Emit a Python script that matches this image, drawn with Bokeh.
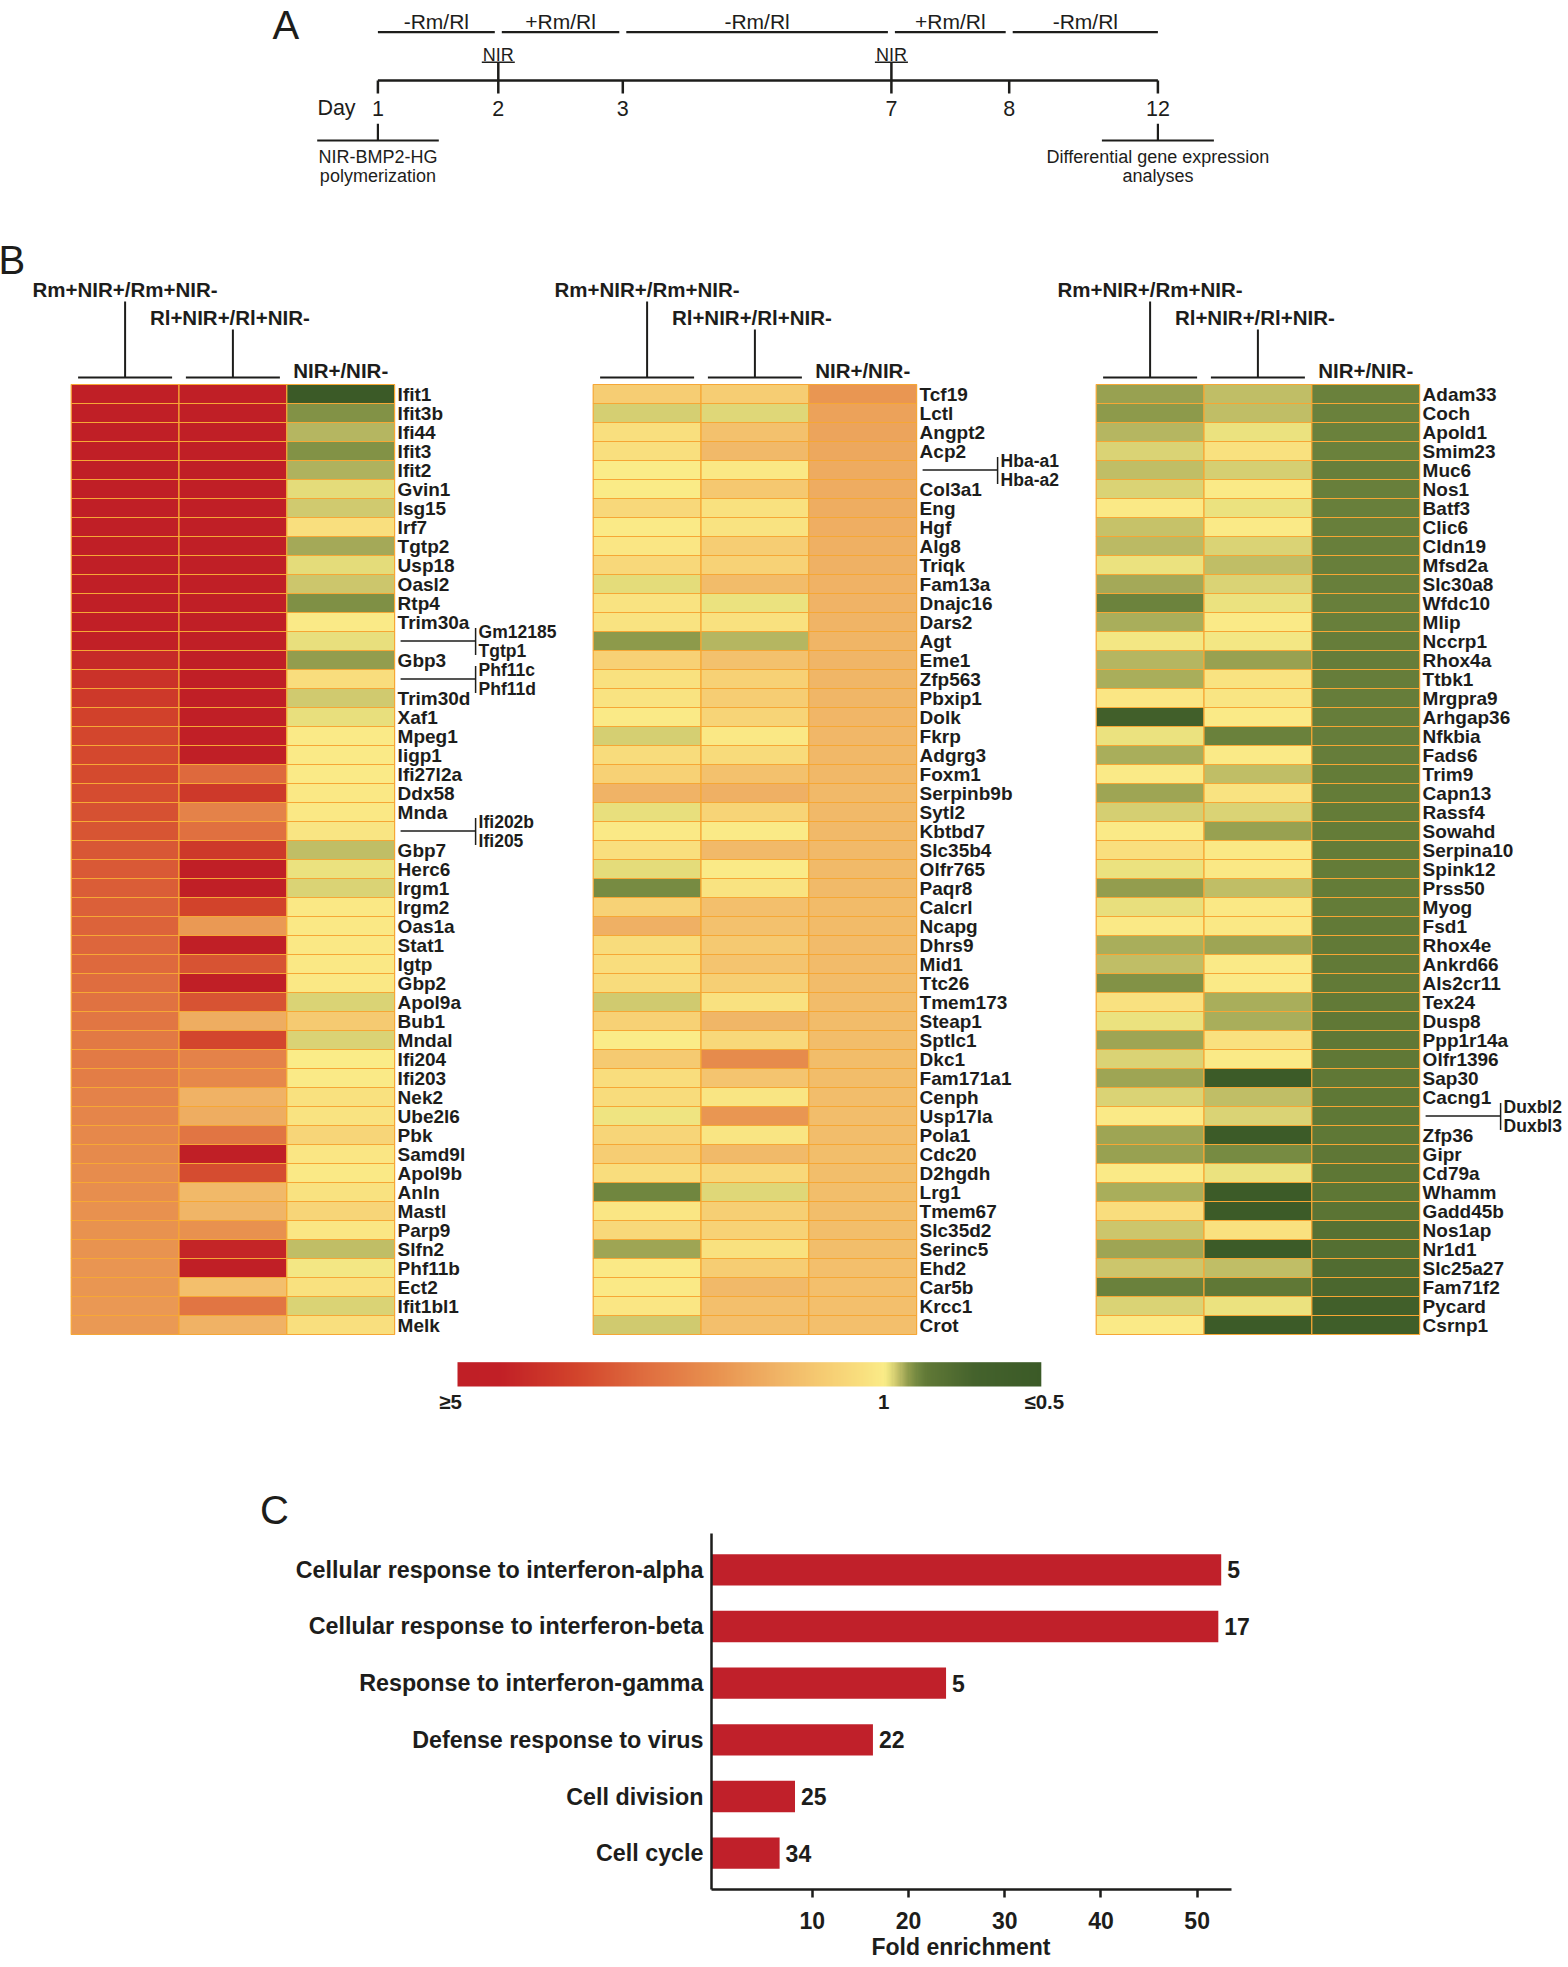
import numpy as np
from bokeh.plotting import figure
from bokeh.models import Range1d, FactorRange, LinearColorMapper, ColumnDataSource, FixedTicker, LabelSet, Title
from bokeh.transform import linear_cmap
from bokeh.embed import file_html
from bokeh.resources import INLINE
from bokeh.core.properties import value

# ------------------------------------------------------------------ data
DAYS = [1, 2, 3, 7, 8, 12]
NIR_DAYS = [2, 7]
TREAT_LABELS = ["-Rm/Rl", "+Rm/Rl", "-Rm/Rl", "+Rm/Rl", "-Rm/Rl"]
TREAT_START = [1, 2, 3, 7, 8]
TREAT_END = [2, 3, 7, 8, 12]
START_NOTE = ["NIR-BMP2-HG", "polymerization"]
END_NOTE = ["Differential gene expression", "analyses"]

COL_HEADERS = ["Rm+NIR+/Rm+NIR-", "Rl+NIR+/Rl+NIR-", "NIR+/NIR-"]

HM1_GENES = ["Ifit1", "Ifit3b", "Ifi44", "Ifit3", "Ifit2", "Gvin1", "Isg15", "Irf7", "Tgtp2", "Usp18",
             "Oasl2", "Rtp4", "Trim30a", "Gm12185/Tgtp1", "Gbp3", "Phf11c/Phf11d", "Trim30d", "Xaf1", "Mpeg1", "Iigp1",
             "Ifi27l2a", "Ddx58", "Mnda", "Ifi202b/Ifi205", "Gbp7", "Herc6", "Irgm1", "Irgm2", "Oas1a", "Stat1",
             "Igtp", "Gbp2", "Apol9a", "Bub1", "Mndal", "Ifi204", "Ifi203", "Nek2", "Ube2l6", "Pbk",
             "Samd9l", "Apol9b", "Anln", "Mastl", "Parp9", "Slfn2", "Phf11b", "Ect2", "Ifit1bl1", "Melk"]
HM1_RM = [5, 5, 5, 5, 5, 5, 5, 5, 5, 5,
          5, 5, 4.8, 4.6, 4.4, 4.25, 4.1, 3.95, 3.85, 3.82,
          3.8, 3.75, 3.68, 3.63, 3.58, 3.55, 3.5, 3.45, 3.4, 3.36,
          3.3, 3.25, 3.15, 3.08, 3.03, 3.0, 2.95, 2.85, 2.8, 2.75,
          2.72, 2.68, 2.64, 2.6, 2.58, 2.55, 2.52, 2.5, 2.47, 2.45]
HM1_RL = [5, 5, 5, 5, 5, 5, 5, 5, 5, 5,
          5, 5, 5, 5, 5, 5, 5, 5, 4.7, 5,
          3.3, 4.1, 2.85, 3.2, 4.1, 5, 5, 3.9, 2.45, 5,
          3.65, 5, 3.65, 2.1, 3.85, 2.85, 2.75, 2.02, 2.1, 3.1,
          5, 3.75, 1.9, 1.97, 2.6, 4.5, 5, 1.8, 3.1, 2.02]
HM1_NIR = [0.5, 0.82, 0.89, 0.82, 0.885, 0.955, 0.93, 1.22, 0.87, 0.96,
           0.918, 0.815, 1.03, 0.965, 0.85, 1.25, 0.93, 0.965, 1.04, 1.04,
           1.04, 1.08, 1.08, 1.12, 0.905, 0.97, 0.945, 1.08, 1.08, 1.08,
           1.08, 1.08, 0.945, 1.6, 0.945, 1.0, 1.03, 1.2, 1.15, 1.4,
           1.1, 1.05, 1.17, 1.4, 1.1, 0.91, 0.99, 1.2, 0.945, 1.22]

HM2_GENES = ["Tcf19", "Lctl", "Angpt2", "Acp2", "Hba-a1/Hba-a2", "Col3a1", "Eng", "Hgf", "Alg8", "Triqk",
             "Fam13a", "Dnajc16", "Dars2", "Agt", "Eme1", "Zfp563", "Pbxip1", "Dolk", "Fkrp", "Adgrg3",
             "Foxm1", "Serpinb9b", "Sytl2", "Kbtbd7", "Slc35b4", "Olfr765", "Paqr8", "Calcrl", "Ncapg", "Dhrs9",
             "Mid1", "Ttc26", "Tmem173", "Steap1", "Sptlc1", "Dkc1", "Fam171a1", "Cenph", "Usp17la", "Pola1",
             "Cdc20", "D2hgdh", "Lrg1", "Tmem67", "Slc35d2", "Serinc5", "Ehd2", "Car5b", "Krcc1", "Crot"]
HM2_RM = [1.55, 0.935, 1.22, 1.22, 1.0, 1.02, 1.35, 1.04, 1.1, 1.35,
          0.96, 1.15, 1.15, 0.84, 1.48, 1.2, 1.15, 1.04, 0.935, 1.28,
          1.48, 2.0, 0.965, 1.05, 1.22, 0.955, 0.8, 1.45, 2.05, 1.28,
          1.26, 1.28, 0.93, 1.48, 1.0, 1.6, 1.26, 1.28, 0.98, 1.4,
          1.55, 1.26, 0.78, 1.1, 1.35, 0.865, 1.06, 1.06, 1.1, 0.93]
HM2_RL = [1.55, 0.95, 1.75, 1.9, 1.08, 1.65, 1.2, 1.15, 1.55, 1.45,
          1.85, 0.975, 1.2, 0.895, 1.75, 1.48, 1.55, 1.42, 1.08, 1.3,
          1.75, 2.05, 1.42, 1.04, 1.9, 1.04, 1.15, 1.8, 1.75, 1.62,
          1.7, 1.52, 1.18, 1.95, 1.35, 2.7, 1.7, 1.12, 2.5, 1.12,
          1.88, 1.35, 0.95, 1.52, 1.45, 1.2, 1.55, 1.9, 1.8, 1.8]
HM2_NIR = [2.5, 2.3, 2.25, 2.2, 2.15, 2.12, 2.1, 2.08, 2.06, 2.04,
           2.02, 2.0, 1.99, 1.98, 1.97, 1.96, 1.95, 1.94, 1.93, 1.92,
           1.91, 1.9, 1.9, 1.89, 1.89, 1.88, 1.88, 1.87, 1.87, 1.86,
           1.86, 1.85, 1.85, 1.85, 1.84, 1.84, 1.84, 1.83, 1.83, 1.83,
           1.82, 1.82, 1.82, 1.81, 1.81, 1.81, 1.8, 1.8, 1.8, 1.8]

HM3_GENES = ["Adam33", "Coch", "Apold1", "Smim23", "Muc6", "Nos1", "Batf3", "Clic6", "Cldn19", "Mfsd2a",
             "Slc30a8", "Wfdc10", "Mlip", "Nccrp1", "Rhox4a", "Ttbk1", "Mrgpra9", "Arhgap36", "Nfkbia", "Fads6",
             "Trim9", "Capn13", "Rassf4", "Sowahd", "Serpina10", "Spink12", "Prss50", "Myog", "Fsd1", "Rhox4e",
             "Ankrd66", "Als2cr11", "Tex24", "Dusp8", "Ppp1r14a", "Olfr1396", "Sap30", "Cacng1", "Duxbl2/Duxbl3", "Zfp36",
             "Gipr", "Cd79a", "Whamm", "Gadd45b", "Nos1ap", "Nr1d1", "Slc25a27", "Fam71f2", "Pycard", "Csrnp1"]
HM3_RM = [0.855, 0.84, 0.895, 0.945, 0.905, 0.945, 1.05, 0.915, 0.9, 0.975,
          0.87, 0.77, 0.875, 0.985, 0.895, 0.875, 1.1, 0.58, 0.975, 0.875,
          1.04, 0.865, 0.935, 1.04, 1.22, 0.975, 0.845, 0.965, 1.05, 0.875,
          0.905, 0.82, 1.18, 0.975, 0.865, 0.945, 0.865, 0.94, 1.04, 0.865,
          0.855, 1.04, 0.875, 1.25, 0.92, 0.865, 0.925, 0.76, 0.945, 1.04]
HM3_RL = [0.905, 0.905, 0.975, 1.2, 0.935, 1.04, 0.97, 1.04, 0.945, 0.91,
          0.94, 0.97, 1.04, 0.99, 0.855, 1.15, 1.12, 1.04, 0.76, 1.04,
          0.905, 1.15, 0.945, 0.855, 1.05, 1.08, 0.905, 1.08, 1.08, 0.865,
          1.04, 1.04, 0.875, 0.875, 1.2, 1.04, 0.52, 0.905, 0.945, 0.52,
          0.8, 0.975, 0.52, 0.52, 1.2, 0.52, 0.905, 0.72, 0.975, 0.52]
HM3_NIR = [0.76, 0.76, 0.76, 0.76, 0.755, 0.755, 0.755, 0.755, 0.75, 0.75,
           0.75, 0.75, 0.75, 0.748, 0.748, 0.745, 0.745, 0.745, 0.742, 0.742,
           0.74, 0.74, 0.74, 0.738, 0.738, 0.735, 0.735, 0.735, 0.732, 0.732,
           0.73, 0.73, 0.728, 0.726, 0.724, 0.722, 0.72, 0.718, 0.716, 0.714,
           0.71, 0.705, 0.7, 0.69, 0.68, 0.67, 0.66, 0.64, 0.58, 0.56]

CBAR_LABELS = ["\u22655", "1", "\u22640.5"]
CBAR_VALUES = [5, 1, 0.5]

GO_TERMS = ["Cellular response to interferon-alpha", "Cellular response to interferon-beta",
            "Response to interferon-gamma", "Defense response to virus", "Cell division", "Cell cycle"]
FOLD_ENRICHMENT = [52.5, 52.2, 23.9, 16.3, 8.2, 6.6]
GENE_COUNTS = [5, 17, 5, 22, 25, 34]
X_TICKS = [10, 20, 30, 40, 50]

# ------------------------------------------------------------------ style / layout
FONT = "Liberation Sans"
INK = "#1d1d1b"
GRIDC = "#f6a735"
BARC = "#c0202a"

PAGE_W = 1568
TOP_H = 1533
COLW = 107.8
ROWH = 19.0
HM_LEFT_PX = [70.7, 592.7, 1095.7]
HM_TOP_PX = 384.0
DAY_X_PX = [377.4, 497.8, 622.3, 890.9, 1008.7, 1157.4]
CBAR_PX = (457.0, 1361.7, 583.8, 24.3)


def ux(px):
    return (px - HM_LEFT_PX[0]) / COLW


def uy(py):
    return (py - HM_TOP_PX) / ROWH


def dx(px):
    return px / COLW


def dy(py):
    return py / ROWH


def fold_to_pos(v):
    """position (0..1) along the colour bar for a fold change"""
    if v >= 1:
        return 0.73 * (5 - min(v, 5)) / 4
    if v >= 0.7:
        return 0.73 + 0.08 * (1 - v) / 0.3
    return 0.81 + 0.19 * (0.7 - max(v, 0.5)) / 0.2


WARM = [(0.0, "#c01f26"), (0.07, "#c11f26"), (0.20, "#d2432b"), (0.32, "#df6d3f"), (0.44, "#e8914f"),
        (0.55, "#f0b466"), (0.63, "#f6cd73"), (0.69, "#f9df7e"), (0.73, "#faec88")]
COOL = [(0.96, "#e6de7c"), (0.92, "#ccc66c"), (0.88, "#adb05d"), (0.84, "#8e9a4b"), (0.78, "#70863f"),
        (0.72, "#607836"), (0.62, "#44622c"), (0.5, "#3b5a27")]


def hex2rgb(h):
    return tuple(int(h[i:i + 2], 16) for i in (1, 3, 5))


def build_palette(n):
    stops = sorted(WARM + [(fold_to_pos(v), c) for v, c in COOL])
    out = []
    for i in range(n):
        t = i / (n - 1)
        for j in range(len(stops) - 1):
            p0, c0 = stops[j]
            p1, c1 = stops[j + 1]
            if p0 <= t <= p1:
                f = (t - p0) / (p1 - p0) if p1 > p0 else 0.0
                rgb = [round(a + (b - a) * f) for a, b in zip(hex2rgb(c0), hex2rgb(c1))]
                out.append("#%02x%02x%02x" % tuple(rgb))
                break
    return out


NPAL = 512
PALETTE = build_palette(NPAL)
mapper = LinearColorMapper(palette=PALETTE, low=0, high=1)

# ------------------------------------------------------------------ top figure (A, B, colour bar)
top = figure(width=PAGE_W, height=TOP_H, x_range=Range1d(ux(0), ux(PAGE_W)), y_range=Range1d(uy(TOP_H), uy(0)),
             toolbar_location=None, output_backend="svg", min_border=0,
             x_axis_type=None, y_axis_type=None)
top.grid.visible = False
top.outline_line_color = None


def T(fig, xs, ys, texts, size, bold=False, align="center", baseline="middle", x_offset=0):
    fig.text(x=xs, y=ys, text=texts, text_font=value(FONT), text_font_size=f"{size}px",
             text_font_style="bold" if bold else "normal", text_align=align,
             text_baseline=baseline, text_color=INK, x_offset=x_offset)


def S(fig, x0, y0, x1, y1, w=2.0):
    fig.segment(x0=x0, y0=y0, x1=x1, y1=y1, line_color=INK, line_width=w)


# ---- panel A
dayx = {d: ux(px) for d, px in zip(DAYS, DAY_X_PX)}
T(top, [ux(272)], [uy(24)], ["A"], 40, align="left")
n_t = len(TREAT_LABELS)
tx0 = [dayx[s] + (0 if i == 0 else dx(3.5)) for i, s in enumerate(TREAT_START)]
tx1 = [dayx[e] - (0 if i == n_t - 1 else dx(3.5)) for i, e in enumerate(TREAT_END)]
S(top, tx0, [uy(31.7)] * n_t, tx1, [uy(31.7)] * n_t, 2.2)
T(top, [(a + b) / 2 for a, b in zip(tx0, tx1)], [uy(20.5)] * n_t, TREAT_LABELS, 21)

S(top, [dayx[DAYS[0]]], [uy(80)], [dayx[DAYS[-1]]], [uy(80)], 2.5)
tick_top = [uy(62) if d in NIR_DAYS else uy(80) for d in DAYS]
S(top, [dayx[d] for d in DAYS], tick_top, [dayx[d] for d in DAYS], [uy(93)] * len(DAYS), 2.5)
T(top, [dayx[d] for d in NIR_DAYS], [uy(54.5)] * len(NIR_DAYS), ["NIR"] * len(NIR_DAYS), 18)
S(top, [dayx[d] - dx(16.5) for d in NIR_DAYS], [uy(61.7)] * len(NIR_DAYS),
  [dayx[d] + dx(16.5) for d in NIR_DAYS], [uy(61.7)] * len(NIR_DAYS), 1.4)
T(top, [ux(336)], [uy(107)], ["Day"], 21.5)
T(top, [dayx[d] for d in DAYS], [uy(108.3)] * len(DAYS), [str(d) for d in DAYS], 21.5)

d1, d12 = dayx[DAYS[0]], dayx[DAYS[-1]]
S(top, [d1, d1 - dx(60.7), d12, d12 - dx(56)], [uy(123.3), uy(140), uy(123.3), uy(140)],
  [d1, d1 + dx(60.9), d12, d12 + dx(56)], [uy(140), uy(140), uy(140), uy(140)], 2.2)
T(top, [d1, d1], [uy(156.7), uy(175.5)], START_NOTE, 18)
T(top, [d12, d12], [uy(156.7), uy(175.5)], END_NOTE, 18)

# ---- panel B
T(top, [ux(-2)], [uy(259.5)], ["B"], 40, align="left")

HEATMAPS = [(HM1_GENES, [HM1_RM, HM1_RL, HM1_NIR]),
            (HM2_GENES, [HM2_RM, HM2_RL, HM2_NIR]),
            (HM3_GENES, [HM3_RM, HM3_RL, HM3_NIR])]

for k, (genes, cols) in enumerate(HEATMAPS):
    o = ux(HM_LEFT_PX[k])
    xs, ys, ps = [], [], []
    for c, vals in enumerate(cols):
        for r, v in enumerate(vals):
            xs.append(o + c + 0.5)
            ys.append(r + 0.5)
            ps.append(fold_to_pos(v))
    src = ColumnDataSource(dict(x=xs, y=ys, pos=ps))
    top.rect(x="x", y="y", width=1, height=1, source=src,
             fill_color=linear_cmap("pos", PALETTE, 0, 1), line_color=GRIDC, line_width=1.2)

    xr = o + len(cols)
    single = [(r, g) for r, g in enumerate(genes) if "/" not in g]
    T(top, [xr] * len(single), [r + 0.5 for r, _ in single], [g for _, g in single], 19,
      bold=True, align="left", x_offset=3)
    for r, g in enumerate(genes):
        if "/" in g:
            a, b = g.split("/")
            yc = r + 0.5
            S(top, [xr + dx(6), xr + dx(81)], [yc, yc - dy(13)], [xr + dx(81), xr + dx(81)], [yc, yc + dy(14)], 1.5)
            T(top, [xr + dx(84), xr + dx(84)], [yc - dy(9.5), yc + dy(9.5)], [a, b], 17.5, bold=True, align="left")

    c1, c2, c3 = o + 0.5, o + 1.5, o + 2.5
    T(top, [c1, c2 - dx(3), c3], [uy(289), uy(317), uy(370)], COL_HEADERS, 20.5, bold=True)
    S(top, [c1, c2, c1 - dx(47), c2 - dx(47)], [uy(301), uy(329), uy(377), uy(377)],
      [c1, c2, c1 + dx(47), c2 + dx(47)], [uy(377), uy(377), uy(377), uy(377)], 2.0)

# ---- colour bar
bx, by, bw, bh = CBAR_PX
grad = np.linspace(0, 1, NPAL).reshape(1, NPAL)
top.image(image=[grad], x=ux(bx), y=uy(by), dw=dx(bw), dh=dy(bh), color_mapper=mapper)
lab_x = [ux(bx) + fold_to_pos(v) * dx(bw) for v in CBAR_VALUES]
for xv, s, off in zip(lab_x, CBAR_LABELS, [-7, 0, 3]):
    T(top, [xv], [uy(1401)], [s], 20.5, bold=True, x_offset=off)

T(top, [ux(259.5)], [uy(1509.5)], ["C"], 40, align="left")

# ------------------------------------------------------------------ panel C
X_START, AXIS_END, X_END = -0.48, 53.57, 57.0
pc = figure(width=PAGE_W, height=433, x_range=Range1d(X_START, X_END),
            y_range=FactorRange(factors=GO_TERMS[::-1], range_padding=0.047),
            toolbar_location=None, output_backend="svg",
            min_border_left=711, min_border_right=304, min_border_top=0, min_border_bottom=77)
pc.hbar(y=GO_TERMS, left=X_START, right=FOLD_ENRICHMENT, height=0.552, fill_color=BARC, line_color=None)
nterm = len(GO_TERMS)
lsrc = ColumnDataSource(dict(x=FOLD_ENRICHMENT, y=[nterm - i - 0.5 for i in range(nterm)],
                             t=[str(n) for n in GENE_COUNTS]))
pc.add_layout(LabelSet(x="x", y="y", text="t", source=lsrc, x_offset=6, text_baseline="middle",
                       text_align="left", text_font=value(FONT), text_font_size="23px",
                       text_font_style="bold", text_color=INK))
pc.grid.visible = False
pc.outline_line_color = None
for ax in (pc.xaxis[0], pc.yaxis[0]):
    ax.axis_line_width = 2.5
    ax.axis_line_color = INK
    ax.major_label_text_font = FONT
    ax.major_label_text_font_style = "bold"
    ax.major_label_text_color = INK
pc.xaxis.major_label_text_font_size = "23px"
pc.yaxis.major_label_text_font_size = "23.3px"
pc.xaxis.bounds = (X_START, AXIS_END)
pc.xaxis.ticker = FixedTicker(ticks=X_TICKS)
pc.xaxis.major_tick_out = 8
pc.xaxis.major_tick_in = 0
pc.xaxis.major_tick_line_width = 2.5
pc.xaxis.major_tick_line_color = INK
pc.xaxis.minor_tick_line_color = None
pc.xaxis.major_label_standoff = 14
pc.yaxis.major_tick_out = 0
pc.yaxis.major_tick_in = 0
pc.yaxis.major_tick_line_color = None
pc.yaxis.major_label_standoff = 8
pc.add_layout(Title(text="Fold enrichment", align="left", offset=160, standoff=0,
                    text_font=FONT, text_font_size="23px", text_font_style="bold", text_color=INK), "below")

open("out.html", "w").write(file_html([top, pc], INLINE))
